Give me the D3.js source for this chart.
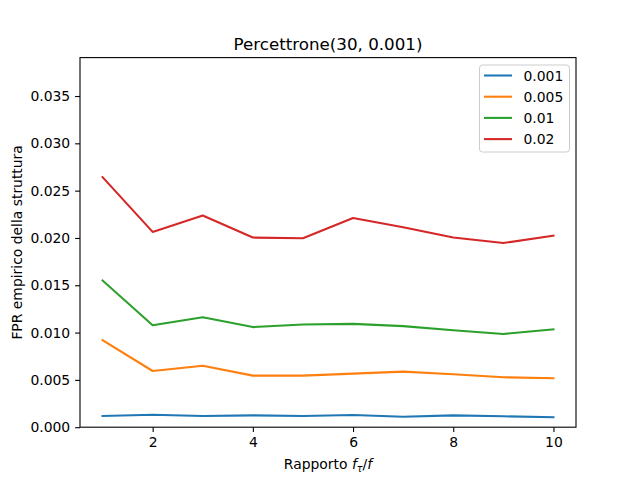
<!DOCTYPE html>
<html>
<head>
<meta charset="utf-8">
<script src="https://cdn.jsdelivr.net/npm/d3@7"></script>
<style>
body { margin:0; background:#fff; }
text { font-family: "DejaVu Sans", sans-serif; fill:#000; }
</style>
</head>
<body>
<svg id="chart" width="640" height="480"></svg>
<script>
const xValues = [1,2,3,4,5,6,7,8,9,10];
const seriesNames = ["0.001","0.005","0.01","0.02"];
const s0001 = [0.00118,0.00132,0.00118,0.00125,0.00118,0.00129,0.00111,0.00125,0.00115,0.00105];
const s0005 = [0.00919,0.00594,0.00650,0.00545,0.00545,0.00566,0.00587,0.00559,0.00528,0.00517];
const s001  = [0.01550,0.01078,0.01162,0.01058,0.01085,0.01092,0.01068,0.01025,0.00985,0.01035];
const s002  = [0.02643,0.02064,0.02237,0.02004,0.01997,0.02210,0.02114,0.02004,0.01946,0.02025];
const colors = ["#1f77b4","#ff7f0e","#2ca02c","#d62728"];
const xTicks = [2,4,6,8,10];
const yTicks = [0,0.005,0.01,0.015,0.02,0.025,0.03,0.035];

const allSeries = [s0001,s0005,s001,s002];
const svg = d3.select("#chart");
const L=80, R=576, T=57.6, B=427.2;
svg.append("rect").attr("width",640).attr("height",480).attr("fill","#fff");

const x = d3.scaleLinear().domain([0.55,10.45]).range([L,R]);
const y = d3.scaleLinear().domain([0,0.03906]).range([B,T]);

const line = d3.line().x((d,i)=>x(xValues[i])).y(d=>y(d));
allSeries.forEach((s,k)=>{
  svg.append("path").datum(s).attr("d",line).attr("fill","none")
    .attr("stroke",colors[k]).attr("stroke-width",2.08)
    .attr("stroke-linejoin","round").attr("stroke-linecap","square");
});

const xAxis = d3.axisBottom(x).tickValues(xTicks).tickSize(4.9).tickPadding(4.9).tickFormat(d3.format("d"));
const gx = svg.append("g").attr("transform",`translate(0,${B})`).call(xAxis);
const yAxis = d3.axisLeft(y).tickValues(yTicks).tickSize(4.9).tickPadding(4.9).tickFormat(d3.format(".3f"));
const gy = svg.append("g").attr("transform",`translate(${L},0)`).call(yAxis);
[gx,gy].forEach(g=>{
  g.select(".domain").remove();
  g.selectAll(".tick line").attr("stroke","#000").attr("stroke-width",1.1);
  g.selectAll(".tick text").attr("font-size","13.9px").attr("font-family","DejaVu Sans").attr("fill","#000");
});

svg.append("rect").attr("x",L).attr("y",T).attr("width",R-L).attr("height",B-T)
  .attr("fill","none").attr("stroke","#000").attr("stroke-width",1.1);

svg.append("text").attr("x",(L+R)/2).attr("y",50).attr("text-anchor","middle")
  .attr("font-size","16.7px").text("Percettrone(30, 0.001)");

const xl = svg.append("text").attr("x",(L+R)/2).attr("y",469).attr("text-anchor","middle").attr("font-size","13.9px");
xl.append("tspan").text("Rapporto ");
xl.append("tspan").attr("font-style","italic").text("f");
xl.append("tspan").attr("font-style","italic").attr("font-size","9.7px").attr("dy",3).text("τ");
xl.append("tspan").attr("dy",-3).text("/");
xl.append("tspan").attr("font-style","italic").text("f");

svg.append("text").attr("transform",`translate(22,${(T+B)/2}) rotate(-90)`)
  .attr("text-anchor","middle").attr("font-size","13.9px").text("FPR empirico della struttura");

const lg = svg.append("g");
lg.append("rect").attr("x",479.5).attr("y",65).attr("width",90).attr("height",87).attr("rx",3)
  .attr("fill","#fff").attr("fill-opacity",0.8).attr("stroke","#cccccc").attr("stroke-width",1);
seriesNames.forEach((n,k)=>{
  const yy = 75.5 + k*21.2;
  lg.append("line").attr("x1",484).attr("x2",512).attr("y1",yy).attr("y2",yy)
    .attr("stroke",colors[k]).attr("stroke-width",2.08);
  lg.append("text").attr("x",523.5).attr("y",yy+5).attr("font-size","13.9px").text(n);
});
</script>
</body>
</html>
